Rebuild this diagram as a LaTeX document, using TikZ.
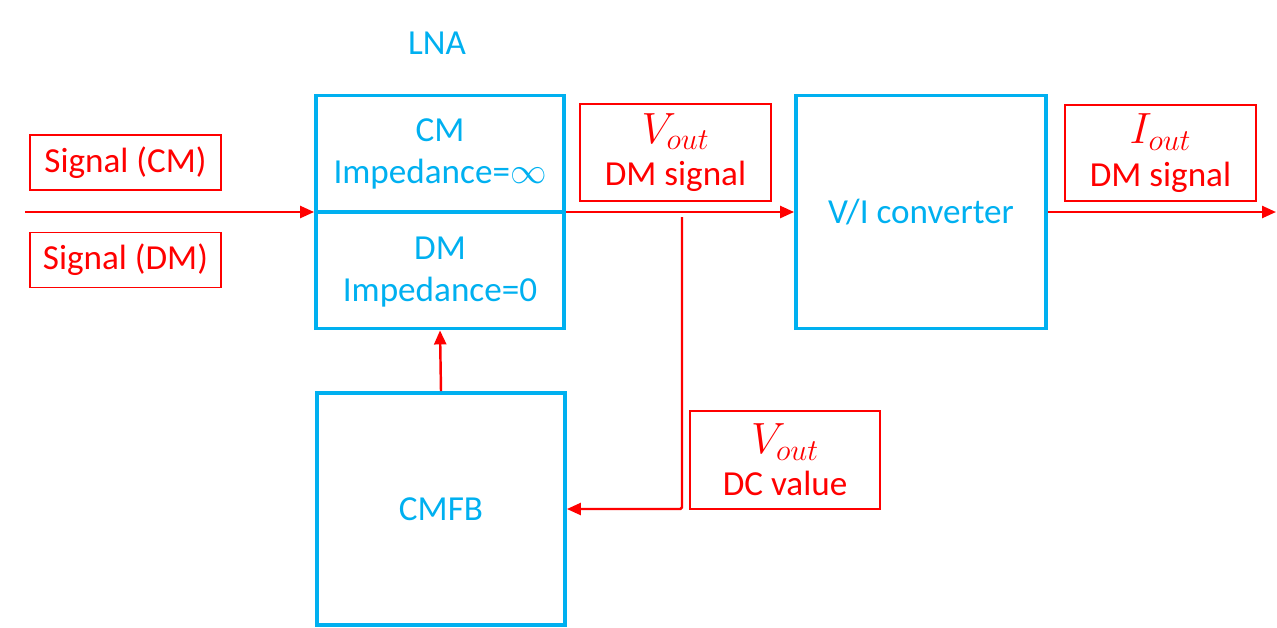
\documentclass[tikz,border=0pt]{standalone}
\usepackage{fontspec}
\setmainfont{Carlito}
\usetikzlibrary{arrows.meta}
\definecolor{ColBlue}{RGB}{0,176,240}
\definecolor{ColRed}{RGB}{255,0,0}
\newcommand{\SigVar}[1]{{\fontsize{23}{24}\selectfont$#1_{out}$}}
\tikzstyle{BlockBox}=[rectangle,draw=ColBlue,line width=2.2pt,inner sep=0pt]
\tikzstyle{BlockText}=[text=ColBlue,align=center,inner sep=0pt,font=\fontsize{20}{24}\selectfont]
\tikzstyle{LabelBox}=[rectangle,draw=ColRed,line width=0.7pt,text=ColRed,align=center,
inner sep=0pt,minimum width=3.82cm,font=\fontsize{20}{24}\selectfont]
\tikzstyle{SigArrow}=[ColRed,line width=1.4pt,-{Triangle[length=2.8mm,width=2.4mm]}]

\begin{document}
\begin{tikzpicture}[x=0.02cm,y=-0.02cm]
        \useasboundingbox (0,0) rectangle (1277,627);
        % blocks
        \node[BlockText](lnalabel)at(437,43){LNA};
        \node[BlockBox,minimum width=4.96cm,minimum height=4.66cm](lna)at(440,212){};
        \draw[ColBlue,line width=2.2pt](lna.west)--(lna.east);
        \node[BlockText](cmtext)at(440,154){CM\\Impedance=$\infty$};
        \node[BlockText](dmtext)at(440,272){DM\\Impedance=0};
        \node[BlockBox,BlockText,minimum width=5cm,minimum height=4.66cm](vi)at(921,212){V/I converter};
        \node[BlockBox,BlockText,minimum width=4.96cm,minimum height=4.64cm](cmfb)at(441,509){CMFB};
        % labels
        \node[LabelBox,minimum height=1.1cm](sigcm)at(125.5,162.5){Signal (CM)};
        \node[LabelBox,minimum height=1.1cm](sigdm)at(125.5,260){Signal (DM)};
        \node[LabelBox,minimum height=1.94cm](voutdm)at(675.5,152.5){\SigVar{V}\\DM signal};
        \node[LabelBox,minimum height=1.92cm](ioutdm)at(1160.5,153){\SigVar{I}\\DM signal};
        \node[LabelBox,minimum height=1.96cm,minimum width=3.8cm](voutdc)at(785,460){\SigVar{V}\\DC value};
        % signal path
        \coordinate(in)at(25,212);
        \coordinate(out)at(1276,212);
        \coordinate(tap)at(682,212);
        \draw[SigArrow](in)--(lna.west);
        \draw[SigArrow](lna.east)--(vi.west);
        \draw[SigArrow](vi.east)--(out);
        \draw[SigArrow,rounded corners=1pt]([yshift=-0.1cm]tap)|-(cmfb.east);
        \draw[SigArrow](cmfb.north)--(lna.south);
    \end{tikzpicture}
\end{document}
